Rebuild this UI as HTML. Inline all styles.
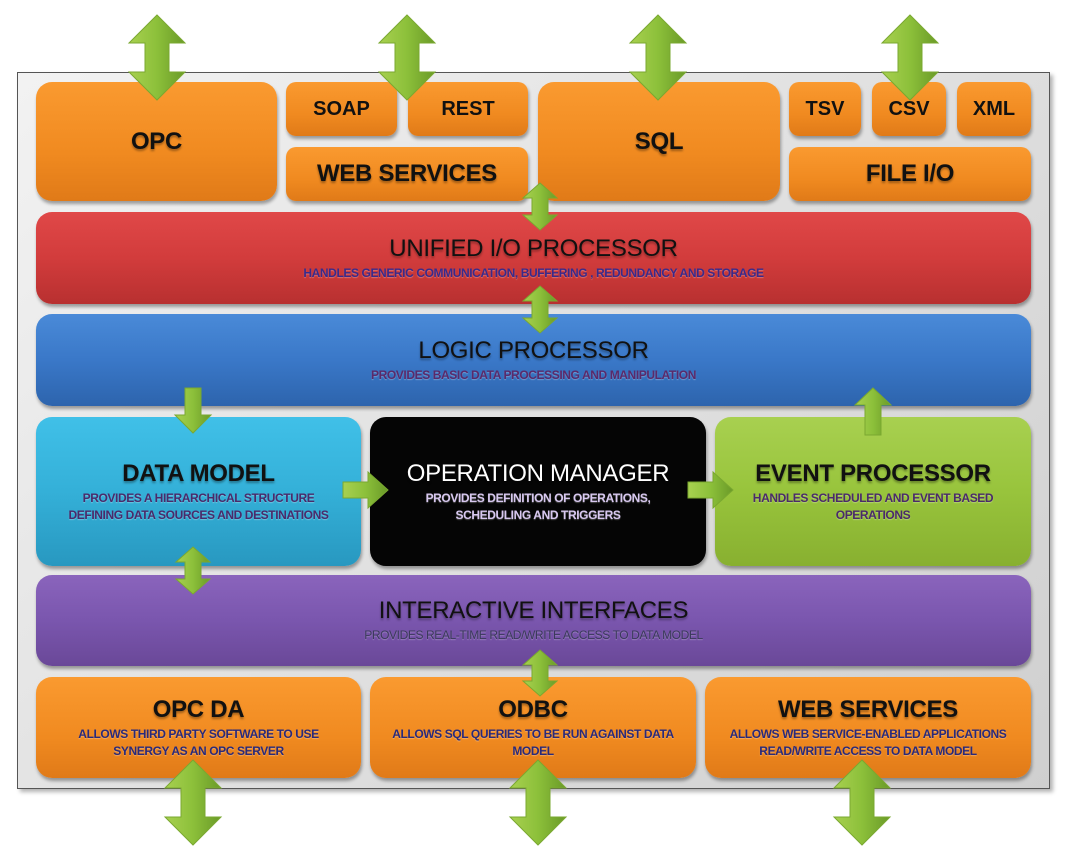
<!DOCTYPE html>
<html><head><meta charset="utf-8"><style>
body{margin:0;width:1068px;height:854px;background:#fff;position:relative;overflow:hidden;font-family:"Liberation Sans",sans-serif}
.panel{position:absolute;left:17px;top:72px;width:1031px;height:715px;border:1.5px solid #555;background:linear-gradient(135deg,#f2f2f2,#cfcfcf);box-shadow:3px 3px 4px rgba(0,0,0,.3)}
.b{position:absolute;border-radius:16px;box-shadow:1px 3px 3px rgba(0,0,0,.35);display:flex;flex-direction:column;align-items:center;justify-content:center;text-align:center;font-weight:bold;color:#111;box-sizing:border-box}
.o{background:linear-gradient(#fa9a30,#f08a20 60%,#e07a18)}
.s{border-radius:10px}
.t{font-size:24px;letter-spacing:-0.3px;text-shadow:0 2px 2px rgba(0,0,0,.35)}
.st{font-size:20px}
.d{font-size:12px;color:#4a2a6a;letter-spacing:-0.4px;line-height:17px;margin-top:2px;text-shadow:0 1px 1px rgba(255,255,255,.3)}
.n{font-weight:normal}
</style></head><body>
<div class="panel"></div>
<div class="b o" style="left:36px;top:82px;width:241px;height:119px"><div class="t">OPC</div></div>
<div class="b o s" style="left:286px;top:82px;width:111px;height:54px"><div class="st">SOAP</div></div>
<div class="b o s" style="left:408px;top:82px;width:120px;height:54px"><div class="st">REST</div></div>
<div class="b o s" style="left:286px;top:147px;width:242px;height:54px"><div class="t">WEB SERVICES</div></div>
<div class="b o" style="left:538px;top:82px;width:242px;height:119px"><div class="t">SQL</div></div>
<div class="b o s" style="left:789px;top:82px;width:72px;height:54px"><div class="st">TSV</div></div>
<div class="b o s" style="left:872px;top:82px;width:74px;height:54px"><div class="st">CSV</div></div>
<div class="b o s" style="left:957px;top:82px;width:74px;height:54px"><div class="st">XML</div></div>
<div class="b o s" style="left:789px;top:147px;width:242px;height:54px"><div class="t">FILE I/O</div></div>
<div class="b" style="left:36px;top:212px;width:995px;height:92px;background:linear-gradient(#e04848,#d23c3c 50%,#b83030)"><div class="t n" style="font-weight:normal">UNIFIED I/O PROCESSOR</div><div class="d" style="color:#3a2a8a">HANDLES GENERIC COMMUNICATION, BUFFERING , REDUNDANCY AND STORAGE</div></div>
<div class="b" style="left:36px;top:314px;width:995px;height:92px;background:linear-gradient(#4a8ad8,#3a78c8 50%,#2d64ad)"><div class="t" style="font-weight:normal">LOGIC PROCESSOR</div><div class="d" style="color:#5a2a6a">PROVIDES BASIC DATA PROCESSING AND MANIPULATION</div></div>
<div class="b" style="left:36px;top:417px;width:325px;height:149px;background:linear-gradient(#40c0e8,#34b0d8 50%,#2898c0)"><div class="t">DATA MODEL</div><div class="d">PROVIDES A HIERARCHICAL STRUCTURE<br>DEFINING DATA SOURCES AND DESTINATIONS</div></div>
<div class="b" style="left:370px;top:417px;width:336px;height:149px;background:#050505"><div class="t" style="color:#fff;font-weight:normal">OPERATION MANAGER</div><div class="d" style="color:#d8c8f0">PROVIDES DEFINITION OF OPERATIONS,<br>SCHEDULING AND TRIGGERS</div></div>
<div class="b" style="left:715px;top:417px;width:316px;height:149px;background:linear-gradient(#a8d050,#98c43c 50%,#88b030)"><div class="t">EVENT PROCESSOR</div><div class="d">HANDLES SCHEDULED AND EVENT BASED<br>OPERATIONS</div></div>
<div class="b" style="left:36px;top:575px;width:995px;height:91px;background:linear-gradient(#8a64bc,#7a56ae 50%,#6a4898)"><div class="t" style="font-weight:normal">INTERACTIVE INTERFACES</div><div class="d n" style="color:#3a3a5a;font-weight:normal">PROVIDES REAL-TIME READ/WRITE ACCESS TO DATA MODEL</div></div>
<div class="b o" style="left:36px;top:677px;width:325px;height:101px"><div class="t">OPC DA</div><div class="d" style="color:#2a2a7a">ALLOWS THIRD PARTY SOFTWARE TO USE<br>SYNERGY AS AN OPC SERVER</div></div>
<div class="b o" style="left:370px;top:677px;width:326px;height:101px"><div class="t">ODBC</div><div class="d" style="color:#2a2a7a">ALLOWS SQL QUERIES TO BE RUN AGAINST DATA<br>MODEL</div></div>
<div class="b o" style="left:705px;top:677px;width:326px;height:101px"><div class="t">WEB SERVICES</div><div class="d" style="color:#2a2a7a">ALLOWS WEB SERVICE-ENABLED APPLICATIONS<br>READ/WRITE ACCESS TO DATA MODEL</div></div>
<svg width="1068" height="854" style="position:absolute;left:0;top:0">
<defs><linearGradient id="g" x1="0" x2="1"><stop offset="0" stop-color="#a8d050"/><stop offset=".5" stop-color="#8cc03a"/><stop offset="1" stop-color="#6a9a28"/></linearGradient></defs>
<g fill="url(#g)" stroke="#7aa830" stroke-width="1">
<polygon points="157,15 185,43 169,43 169,72 185,72 157,100 129,72 145,72 145,43 129,43"/>
<polygon points="407,15 435,43 419,43 419,72 435,72 407,100 379,72 395,72 395,43 379,43"/>
<polygon points="658,15 686,43 670,43 670,72 686,72 658,100 630,72 646,72 646,43 630,43"/>
<polygon points="910,15 938,43 922,43 922,72 938,72 910,100 882,72 898,72 898,43 882,43"/>
<polygon points="540,183 557,198 548,198 548,215 557,215 540,230 523,215 532,215 532,198 523,198"/>
<polygon points="540,286 557,301 548,301 548,318 557,318 540,333 523,318 532,318 532,301 523,301"/>
<polygon points="193,547 210,562 201,562 201,579 210,579 193,594 176,579 185,579 185,562 176,562"/>
<polygon points="540,650 557,665 548,665 548,681 557,681 540,696 523,681 532,681 532,665 523,665"/>
<polygon points="185,388 201,388 201,415 211,415 193,433 175,415 185,415"/>
<polygon points="873,388 891,405 881,405 881,435 865,435 865,405 855,405"/>
<polygon points="343,482 368,482 368,472 388,490 368,508 368,498 343,498"/>
<polygon points="688,482 713,482 713,472 733,490 713,508 713,498 688,498"/>
<polygon points="193,760 221,788 205,788 205,817 221,817 193,845 165,817 181,817 181,788 165,788"/>
<polygon points="538,760 566,788 550,788 550,817 566,817 538,845 510,817 526,817 526,788 510,788"/>
<polygon points="862,760 890,788 874,788 874,817 890,817 862,845 834,817 850,817 850,788 834,788"/>
</g></svg>
</body></html>
